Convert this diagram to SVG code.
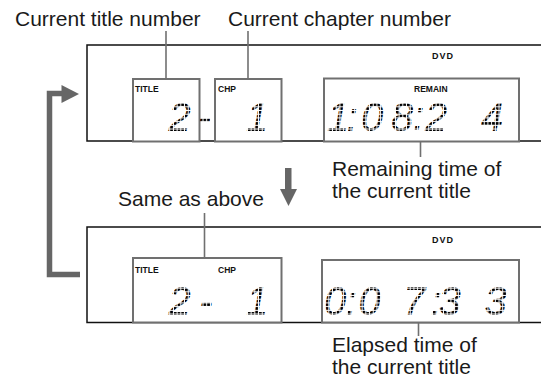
<svg xmlns="http://www.w3.org/2000/svg" width="548" height="385" viewBox="0 0 548 385">
<style>
.lbl{font-family:"Liberation Sans",Arial,sans-serif;font-size:21px;fill:#1a1a1a}
.tiny{font-family:"Liberation Sans",Arial,sans-serif;font-size:8.5px;font-weight:bold;fill:#111}
.dvd{font-family:"Liberation Sans",Arial,sans-serif;font-size:9px;font-weight:bold;fill:#111;letter-spacing:1px}
.seg{font-family:"Liberation Sans",Arial,sans-serif;font-style:italic;font-size:40px;fill:url(#dots);text-anchor:middle}
.panel{fill:none;stroke:#111;stroke-width:1.5}
.box{fill:#fff;stroke:#707070;stroke-width:2}
.lead{stroke:#707070;stroke-width:1.6;fill:none}
.big{stroke:#666;stroke-width:5.5;fill:none}
</style>
<defs>
<pattern id="dots" width="3.7" height="3.7" patternUnits="userSpaceOnUse">
<rect width="2.7" height="2.7" fill="#000"/>
</pattern>
</defs>

<g id="labels">
<text class="lbl" x="15" y="25.5">Current title number</text>
<text class="lbl" x="228" y="25.5">Current chapter number</text>
<text class="lbl" x="332" y="176">Remaining time of</text>
<text class="lbl" x="332" y="198">the current title</text>
<text class="lbl" x="118" y="205.5">Same as above</text>
<text class="lbl" x="332" y="352">Elapsed time of</text>
<text class="lbl" x="332" y="374">the current title</text>
</g>

<g id="top-display">
<polyline class="panel" points="541,45 87,45 87,141 541,141"/>
<text class="dvd" x="432" y="58.5">DVD</text>
<g id="top-title">
<rect class="box" x="133" y="79" width="66.5" height="62.5"/>
<text class="tiny" x="135" y="91.5">TITLE</text>
</g>
<g id="top-chp">
<rect class="box" x="215" y="79" width="66.5" height="62.5"/>
<text class="tiny" x="218" y="91.5">CHP</text>
</g>
<text class="seg" x="179.5 204.5 257" y="131">2-1</text>
<g id="top-remain">
<rect class="box" x="324" y="78.5" width="195" height="63"/>
<text class="tiny" x="414" y="91.5">REMAIN</text>
<text class="seg" x="338 352 372 402 418.5 436 492" y="131 131 131 131 129.5 131 131">1:08:24</text>
</g>
</g>

<g id="bottom-display">
<polyline class="panel" points="541,227 87,227 87,322.5 541,322.5"/>
<text class="dvd" x="432" y="243">DVD</text>
<g id="bottom-title-chp">
<rect class="box" x="133" y="258" width="148.5" height="64.5"/>
<text class="tiny" x="135" y="273">TITLE</text>
<text class="tiny" x="218" y="273">CHP</text>
<text class="seg" x="179.5 206 257" y="315">2-1</text>
</g>
<g id="bottom-elapsed">
<rect class="box" x="322" y="260" width="197" height="62.5"/>
<text class="seg" x="335 351 369.5 414 436 449.5 495.5" y="315">0:07:33</text>
</g>
</g>

<g id="connectors">
<line class="lead" x1="166" y1="31" x2="166" y2="79"/>
<line class="lead" x1="248" y1="31" x2="248" y2="79"/>
<line class="lead" x1="420.5" y1="142" x2="420.5" y2="157"/>
<line class="lead" x1="204.5" y1="213" x2="204.5" y2="258"/>
<line class="lead" x1="418.5" y1="323" x2="418.5" y2="336"/>
<rect x="285" y="168" width="6.5" height="22" fill="#666"/>
<polygon points="280,189 297,189 288.5,206" fill="#666"/>
<polyline class="big" points="80,274.5 49.5,274.5 49.5,93.5 63,93.5"/>
<polygon points="61.5,85 79,94 61.5,103" fill="#666"/>
</g>
</svg>
